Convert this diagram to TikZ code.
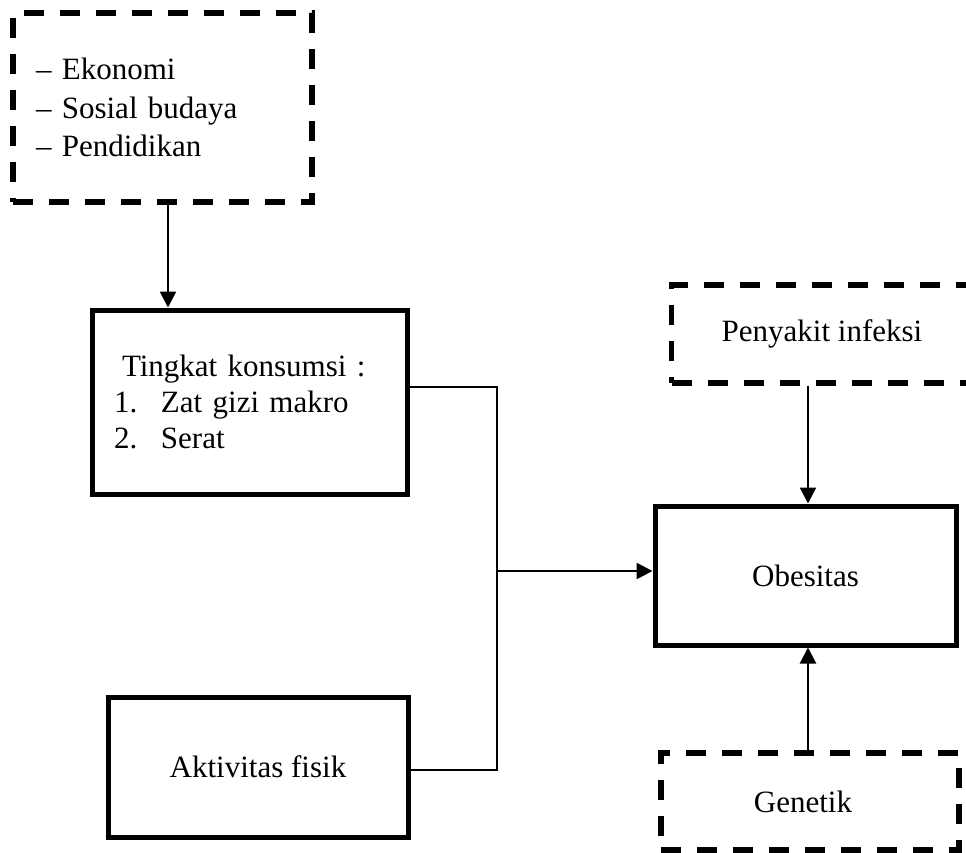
\documentclass[tikz,border=0pt]{standalone}
\usepackage{fontspec}
\setmainfont{Liberation Serif}
\usetikzlibrary{arrows.meta}
\tikzset{
  x=1pt, y=-1pt,
  every node/.style={font=\fontsize{31}{37}\selectfont, inner sep=0pt},
  solidbox/.style={draw, line width=5pt, rectangle},
  dashbox/.style={draw, line width=5.5pt, rectangle, dash pattern=on 20pt off 16pt},
  conn/.style={line width=2.6pt},
  arr/.style={conn, -{Triangle[length=16pt,width=16pt]}}
}
\begin{document}
\begin{tikzpicture}
\useasboundingbox (0,0) rectangle (966,852);
\clip (0,0) rectangle (966,852);
% top dashed box
\node[dashbox, minimum width=299pt, minimum height=189pt, inner xsep=23pt, text width=253pt, align=left] (top) at (162.5,107.5)
  {\fontsize{31}{38.5}\selectfont -- Ekonomi\\ -- Sosial budaya\\ -- Pendidikan\\[-3pt]};
% Tingkat konsumsi
\node[solidbox, minimum width=315pt, minimum height=184pt, inner xsep=22pt, text width=271pt, align=left] (tk) at (249.5,402)
  {\fontsize{31}{36}\selectfont \hspace*{8pt}Tingkat konsumsi :\\ \makebox[47pt][l]{1.}Zat gizi makro\\ \makebox[47pt][l]{2.}Serat\\[14pt]};
% Aktivitas fisik
\node[solidbox, minimum width=300pt, minimum height=140pt] (akt) at (258,767) {Aktivitas fisik};
% Obesitas
\node[solidbox, minimum width=301pt, minimum height=139pt] (ob) at (805.5,575.5) {Obesitas};
% Penyakit infeksi
\node[dashbox, minimum width=301pt, minimum height=98pt] (pi) at (822,334) {Penyakit infeksi};
% Genetik
\node[dashbox, minimum width=298pt, minimum height=97pt] (gen) at (810,801.5) {\hspace*{-14pt}Genetik};
% connectors
\draw[arr] ([xshift=5.5pt]top.south) -- ([xshift=5.5pt]top.south |- tk.north);
\coordinate (jt) at (497,387);
\coordinate (jb) at (497,770);
\coordinate (j) at (497,571);
\draw[conn] (tk.east |- jt) -- (jt) -- (jb) -- (akt.east |- jb);
\draw[arr] (j) -- (j -| ob.west);
\coordinate (px) at (808,0);
\draw[arr] (px |- pi.south) -- (px |- ob.north);
\draw[arr] (px |- gen.north) -- (px |- ob.south);
\end{tikzpicture}
\end{document}
